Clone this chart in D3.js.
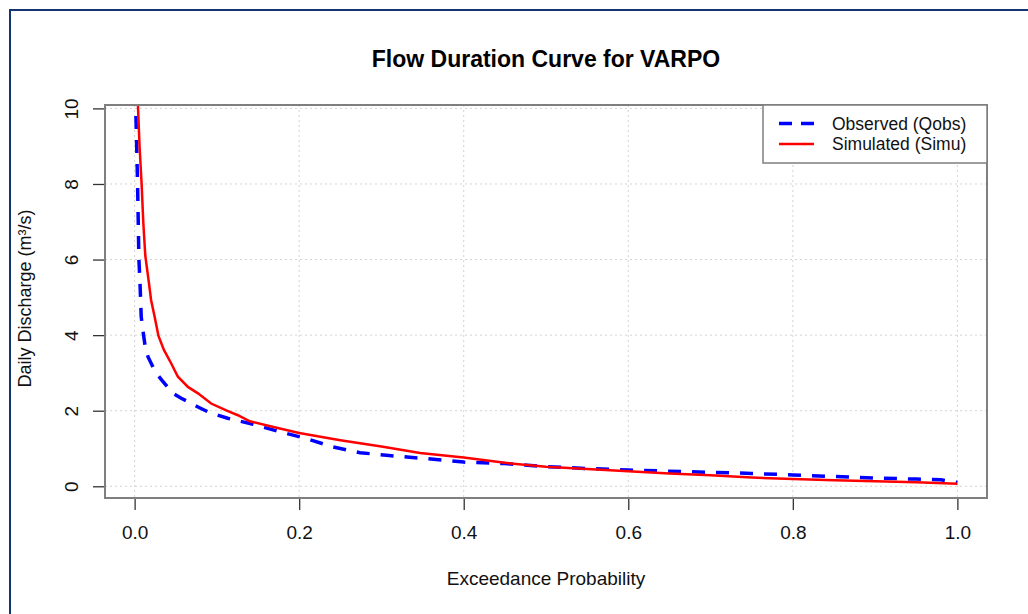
<!DOCTYPE html>
<html>
<head>
<meta charset="utf-8">
<script src="https://cdn.jsdelivr.net/npm/d3@7"></script>
<style>
  body { margin: 0; background: #fff; }
  svg { display: block; font-family: "Liberation Sans", Arial, sans-serif; }
</style>
</head>
<body>
<div id="chart"></div>
<script>
// exceedance probability / discharge
var obsP = [0.0016, 0.0025, 0.0036, 0.0044, 0.0052, 0.0064, 0.0073, 0.008, 0.010, 0.0129, 0.0162, 0.025, 0.033, 0.0465, 0.0566, 0.077, 0.089, 0.113, 0.144, 0.177, 0.209, 0.241, 0.274, 0.306, 0.35, 0.4, 0.45, 0.5, 0.55, 0.6, 0.65, 0.7, 0.75, 0.8, 0.85, 0.9, 0.95, 0.98, 1.0];
var obsQ = [9.8, 9.0, 8.0, 7.0, 6.0, 5.46, 4.93, 4.49, 4.14, 3.69, 3.43, 3.03, 2.81, 2.46, 2.33, 2.10, 1.97, 1.80, 1.64, 1.44, 1.26, 1.04, 0.89, 0.82, 0.74, 0.64, 0.60, 0.52, 0.47, 0.43, 0.40, 0.37, 0.34, 0.30, 0.26, 0.22, 0.19, 0.17, 0.10];

var simP = [0.004, 0.006, 0.0085, 0.0105, 0.013, 0.0174, 0.020, 0.0243, 0.029, 0.0356, 0.0445, 0.0526, 0.0648, 0.077, 0.093, 0.112, 0.1255, 0.14, 0.17, 0.2, 0.25, 0.3, 0.347, 0.4, 0.45, 0.5, 0.55, 0.6, 0.65, 0.7, 0.75, 0.8, 0.85, 0.9, 0.95, 1.0];
var simQ = [10.1, 9.0, 8.0, 7.0, 6.1, 5.38, 4.93, 4.49, 3.98, 3.61, 3.25, 2.90, 2.63, 2.46, 2.19, 2.0, 1.88, 1.72, 1.56, 1.41, 1.22, 1.05, 0.88, 0.76, 0.62, 0.52, 0.46, 0.40, 0.34, 0.29, 0.23, 0.19, 0.16, 0.13, 0.11, 0.07];

var xTicks = [0, 0.2, 0.4, 0.6, 0.8, 1.0];
var yTicks = [0, 2, 4, 6, 8, 10];

var seriesNames = ["Observed (Qobs)", "Simulated (Simu)"];

var W = 1028, H = 614;
var box = {left: 105, top: 105, right: 987, bottom: 498};

var svg = d3.select("#chart").append("svg")
    .attr("width", W)
    .attr("height", H);

// frame around the picture
svg.append("path")
    .attr("d", "M10," + H + "V10H" + W)
    .attr("fill", "none")
    .attr("stroke", "#153572")
    .attr("stroke-width", 2);

var x = d3.scaleLinear().domain([-0.036, 1.036]).range([box.left, box.right]);
var y = d3.scaleLinear().domain([-0.31, 10.09]).range([box.bottom, box.top]);

// grid
svg.append("g").selectAll("line")
    .data(xTicks)
    .join("line")
    .attr("x1", d => x(d)).attr("x2", d => x(d))
    .attr("y1", box.top).attr("y2", box.bottom)
    .attr("stroke", "#d3d3d3")
    .attr("stroke-dasharray", "2,3");

svg.append("g").selectAll("line")
    .data(yTicks)
    .join("line")
    .attr("y1", d => y(d)).attr("y2", d => y(d))
    .attr("x1", box.left).attr("x2", box.right)
    .attr("stroke", "#d3d3d3")
    .attr("stroke-dasharray", "2,3");

// axes
var xAxis = svg.append("g")
    .attr("transform", "translate(0," + box.bottom + ")")
    .call(d3.axisBottom(x).tickValues(xTicks).tickFormat(d3.format(".1f")).tickSize(12).tickPadding(16));

var yAxis = svg.append("g")
    .attr("transform", "translate(" + box.left + ",0)")
    .call(d3.axisLeft(y).tickValues(yTicks).tickFormat(d3.format("d")).tickSize(12).tickPadding(15));

[xAxis, yAxis].forEach(function(a) {
    a.select(".domain").remove();
    a.selectAll(".tick line").attr("stroke", "#333").attr("stroke-width", 1.3);
    a.selectAll(".tick text")
        .attr("fill", "#111")
        .style("font-size", "19px")
        .style("font-family", "'Liberation Sans', Arial, sans-serif");
});

yAxis.selectAll(".tick text")
    .attr("x", null).attr("dy", null)
    .attr("text-anchor", "middle")
    .attr("transform", "translate(-27,0) rotate(-90)");

// curves
svg.append("clipPath").attr("id", "clip")
    .append("rect")
    .attr("x", box.left).attr("y", box.top)
    .attr("width", box.right - box.left).attr("height", box.bottom - box.top);

var line = d3.line()
    .x(d => x(d[0]))
    .y(d => y(d[1]));

var obs = obsP.map((p, i) => [p, obsQ[i]]);
var sim = simP.map((p, i) => [p, simQ[i]]);

var curves = svg.append("g").attr("clip-path", "url(#clip)");

curves.append("path")
    .datum(obs)
    .attr("d", line)
    .attr("fill", "none")
    .attr("stroke", "#0000ff")
    .attr("stroke-width", 3.5)
    .attr("stroke-dasharray", "13,11");

curves.append("path")
    .datum(sim)
    .attr("d", line)
    .attr("fill", "none")
    .attr("stroke", "#ff0000")
    .attr("stroke-width", 2.5);

// plot box
svg.append("rect")
    .attr("x", box.left).attr("y", box.top)
    .attr("width", box.right - box.left).attr("height", box.bottom - box.top)
    .attr("fill", "none")
    .attr("stroke", "#7f7f7f")
    .attr("stroke-width", 2);

// legend
var legend = svg.append("g");
legend.append("rect")
    .attr("x", 763).attr("y", box.top)
    .attr("width", box.right - 763).attr("height", 58)
    .attr("fill", "#fff")
    .attr("stroke", "#7f7f7f")
    .attr("stroke-width", 1.5);

var legendStyles = [
    {color: "#0000ff", width: 3.5, dash: "13,9"},
    {color: "#ff0000", width: 2.5, dash: null}
];

seriesNames.forEach(function(name, i) {
    var ly = 123.5 + i * 20.5;
    legend.append("line")
        .attr("x1", 779).attr("x2", 814)
        .attr("y1", ly).attr("y2", ly)
        .attr("stroke", legendStyles[i].color)
        .attr("stroke-width", legendStyles[i].width)
        .attr("stroke-dasharray", legendStyles[i].dash);
    legend.append("text")
        .attr("x", 832).attr("y", ly)
        .attr("dy", "0.35em")
        .style("font-size", "17.5px")
        .attr("fill", "#111")
        .text(name);
});

// titles
svg.append("text")
    .attr("x", (box.left + box.right) / 2).attr("y", 67)
    .attr("text-anchor", "middle")
    .style("font-size", "23px")
    .style("font-weight", "bold")
    .text("Flow Duration Curve for VARPO");

svg.append("text")
    .attr("x", (box.left + box.right) / 2).attr("y", 585)
    .attr("text-anchor", "middle")
    .style("font-size", "19px")
    .attr("fill", "#111")
    .text("Exceedance Probability");

svg.append("text")
    .attr("transform", "translate(31," + ((box.top + box.bottom) / 2 - 3) + ") rotate(-90)")
    .attr("text-anchor", "middle")
    .style("font-size", "18px")
    .attr("fill", "#111")
    .text("Daily Discharge (m³/s)");
</script>
</body>
</html>
